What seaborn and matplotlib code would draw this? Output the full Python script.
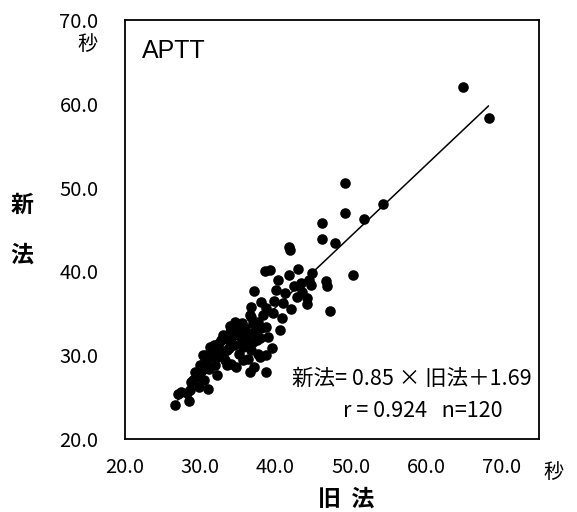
import matplotlib
matplotlib.use('Agg')
import matplotlib.pyplot as plt
import seaborn as sns
import numpy as np
import pandas as pd

# APTT: old method (x) vs new method (y), seconds
old_method = [64.9, 68.3, 49.2, 49.2, 54.3, 51.8, 46.2, 46.2, 47.9, 41.8,
              41.9, 50.3, 38.6, 39.3, 40.3, 41.8, 43.0, 44.8, 46.7, 46.8,
              44.5, 44.7, 43.4, 42.5, 41.3, 42.8, 44.2, 44.2, 47.3, 37.2,
              38.1, 38.8, 39.7, 36.8, 36.6, 40.8, 40.6, 34.6, 37.0, 37.7,
              37.2, 38.1, 38.8, 37.9, 39.0, 37.0, 39.5, 34.4, 35.0, 33.3,
              33.9, 35.7, 35.5, 36.8, 37.7, 38.8, 31.3, 32.4, 33.5, 30.4,
              31.7, 26.6, 28.5, 27.5, 28.2, 27.1, 28.8, 29.9, 31.0, 29.3,
              29.9, 30.2, 32.2, 30.8, 30.6, 31.7, 32.8, 33.0, 33.9, 34.1,
              34.8, 35.3, 34.1, 34.8, 35.7, 36.6, 37.2, 37.9, 38.8, 35.9,
              32.2, 32.6, 33.3, 30.8, 37.5, 29.0, 30.0, 31.2, 31.8, 32.5,
              33.0, 33.8, 34.5, 35.2, 36.2, 36.0, 35.5, 34.0, 36.3, 33.6,
              32.0, 30.5, 28.6, 36.8, 38.4, 39.8, 40.0, 41.0, 42.0, 43.5]
new_method = [62.0, 58.3, 50.6, 47.0, 48.0, 46.3, 45.8, 43.9, 43.4, 42.9,
              42.6, 39.6, 40.0, 40.2, 39.0, 39.6, 40.3, 39.8, 38.8, 38.3,
              39.0, 38.4, 38.6, 38.2, 37.4, 36.9, 36.8, 36.1, 35.3, 37.6,
              36.4, 35.6, 35.0, 35.8, 34.8, 34.4, 33.0, 34.0, 33.8, 34.0,
              32.8, 33.2, 33.4, 32.0, 32.2, 31.6, 30.8, 32.8, 32.4, 32.0,
              31.6, 31.0, 31.8, 30.6, 30.2, 30.0, 31.0, 30.8, 30.6, 30.0,
              29.8, 24.1, 24.5, 25.6, 25.5, 25.4, 26.8, 26.2, 26.0, 28.0,
              27.4, 28.2, 27.6, 30.0, 29.4, 30.2, 31.8, 32.4, 32.8, 32.0,
              33.6, 32.6, 29.0, 28.6, 29.4, 28.0, 28.6, 29.8, 28.0, 31.2,
              29.8, 30.4, 29.4, 29.0, 31.8, 27.0, 28.8, 28.4, 31.2, 31.5,
              30.0, 30.8, 31.2, 30.2, 32.2, 33.2, 33.8, 33.5, 29.6, 28.8,
              28.8, 27.0, 25.9, 34.6, 34.8, 36.5, 37.8, 36.2, 35.5, 37.5]

slope = 0.85
intercept = 1.69
line_x = [27.0, 68.3]
ticks = [20, 30, 40, 50, 60, 70]

df = pd.DataFrame({'old': old_method, 'new': new_method})
fit = pd.DataFrame({'old': line_x, 'new': [slope * v + intercept for v in line_x]})

sns.set_style('white')
plt.rcParams['font.family'] = ['Noto Sans CJK JP', 'DejaVu Sans']
plt.rcParams['text.color'] = 'black'

fig = plt.figure(figsize=(5.77, 5.12), dpi=100)
ax = fig.add_axes([0.2166, 0.1426, 0.7175, 0.8184])

sns.scatterplot(data=df, x='old', y='new', ax=ax, color='black', s=58,
                linewidth=0, legend=False, zorder=3)
sns.lineplot(data=fit, x='old', y='new', ax=ax, color='black', linewidth=1.1,
             zorder=2)

ax.set_xlim(20, 75)
ax.set_ylim(20, 70)
ax.set_xticks(ticks)
ax.set_yticks(ticks)
ax.set_xticklabels([f'{t:.1f}' for t in ticks])
ax.set_yticklabels([f'{t:.1f}' for t in ticks])
ax.tick_params(direction='in', length=5, width=1.1, labelsize=14.5,
               colors='black')
ax.tick_params(axis='x', pad=13)
ax.tick_params(axis='y', pad=19)
for sp in ax.spines.values():
    sp.set_color('black')
    sp.set_linewidth(1.3)
ax.set_xlabel('')
ax.set_ylabel('')

# unit marks and axis titles
fig.text(88 / 577, 1 - 44 / 512, '秒', fontsize=14.5, ha='center', va='center')
fig.text(554 / 577, 1 - 472 / 512, '秒', fontsize=14.5, ha='center', va='center')
fig.text(22 / 577, 1 - 205 / 512, '新', fontsize=16.5, fontweight='bold',
         ha='center', va='center')
fig.text(22 / 577, 1 - 255 / 512, '法', fontsize=16.5, fontweight='bold',
         ha='center', va='center')
fig.text(346 / 577, 1 - 499 / 512, '旧  法', fontsize=16.5, fontweight='bold',
         ha='center', va='center')

ax.text(0.04, 0.925, 'APTT', transform=ax.transAxes, fontsize=18,
        family='Liberation Sans', ha='left', va='center')
ax.text(0.983, 0.143, '新法= 0.85 × 旧法＋1.69', transform=ax.transAxes,
        fontsize=15.5, ha='right', va='center')
ax.text(0.913, 0.066, 'r = 0.924   n=120', transform=ax.transAxes,
        fontsize=15.5, ha='right', va='center')

fig.savefig('out.png', dpi=100)
